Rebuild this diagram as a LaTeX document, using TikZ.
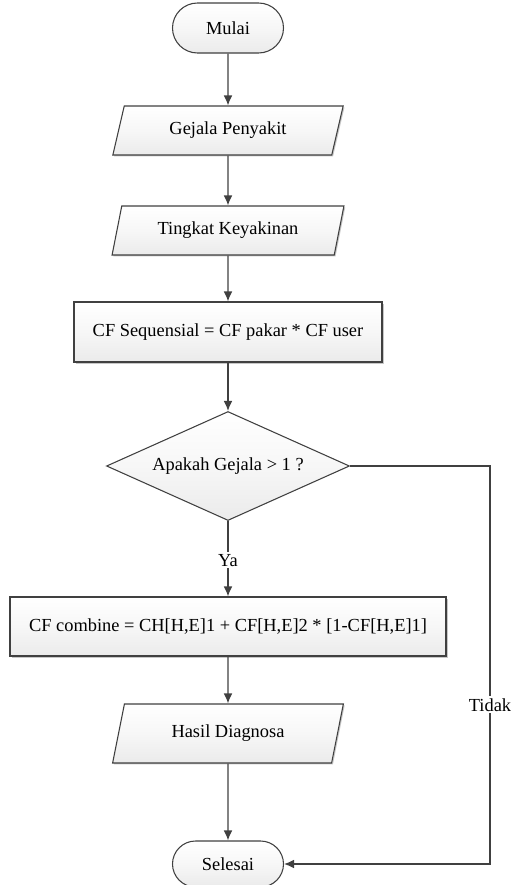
\documentclass[tikz,border=0pt]{standalone}
\usepackage{fontspec}
\setmainfont{Liberation Serif}
\usetikzlibrary{arrows.meta}
\usetikzlibrary{shapes.geometric,shapes.misc,shadows}
\tikzset{>={Latex[length=7.5pt,width=6.5pt]}}
\colorlet{linecol}{black!75}
\colorlet{boxcol}{black!8}
\colorlet{shadowcol}{black!22}
\tikzstyle{base}=[draw=linecol,line width=0.8pt,top color=white,bottom color=boxcol,middle color=boxcol!40,font=\fontsize{13.8}{15}\selectfont,inner sep=0pt]
\tikzstyle{terminal}=[base,rounded rectangle]
\tikzstyle{io}=[base,trapezium,trapezium left angle=69,trapezium right angle=111,trapezium stretches=true,general shadow={fill=shadowcol,shadow xshift=1pt,shadow yshift=-1pt}]
\tikzstyle{process}=[base,rectangle,general shadow={fill=shadowcol,shadow xshift=1.5pt,shadow yshift=-1.5pt}]
\tikzstyle{decision}=[base,diamond,aspect=2.23,shading angle=0]
\tikzstyle{flow}=[draw=linecol,line width=0.9pt,->]
\tikzstyle{lbl}=[fill=white,inner sep=1.5pt,font=\fontsize{13.8}{15}\selectfont]

\begin{document}
\begin{tikzpicture}[x=0.75pt,y=-0.75pt]
  \def\px{0.75pt} % one pixel of the reference
  \def\cx{228}    % axis of the main column
  \def\rx{490}    % x of the return line
  \useasboundingbox (0,0) rectangle (512,885);

  % nodes of the main column
  \node[terminal,minimum width=111*\px,minimum height=50*\px] (mulai) at (\cx,28) {Mulai};
  \node[io,minimum width=232*\px,minimum height=49*\px] (gejala) at (\cx,130.5) {Gejala Penyakit};
  \node[io,minimum width=232*\px,minimum height=49*\px] (tingkat) at (\cx,230.5) {Tingkat Keyakinan};
  \node[process,minimum width=308*\px,minimum height=60*\px] (cfseq) at (\cx,332) {CF Sequensial = CF pakar * CF user};
  \node[decision,minimum width=243*\px,minimum height=109*\px] (cek) at (\cx,466) {Apakah Gejala > 1 ?};
  \node[process,minimum width=436*\px,minimum height=59*\px] (cfcomb) at (\cx,626.5) {CF combine = CH[H,E]1 + CF[H,E]2 * [1-CF[H,E]1]};
  \node[io,minimum width=231*\px,minimum height=59*\px] (hasil) at (\cx,733.5) {Hasil Diagnosa};
  \node[terminal,minimum width=111*\px,minimum height=46*\px] (selesai) at (\cx,864) {Selesai};

  % corners of the "Tidak" branch
  \coordinate (tk1) at (\rx,466);
  \coordinate (tk2) at (\rx,864);

  % connectors
  \draw[flow] (mulai) -- (gejala);
  \draw[flow] (gejala) -- (tingkat);
  \draw[flow] (tingkat) -- (cfseq);
  \draw[flow] (cfseq) -- (cek);
  \draw[flow] (cek) -- node[lbl,pos=0.52] {Ya} (cfcomb);
  \draw[flow] (cfcomb) -- (hasil);
  \draw[flow] (hasil) -- (selesai);
  \draw[flow] (cek.east) -- (tk1) -- node[lbl,pos=0.6] {Tidak} (tk2) -- (selesai.east);
\end{tikzpicture}
\end{document}
